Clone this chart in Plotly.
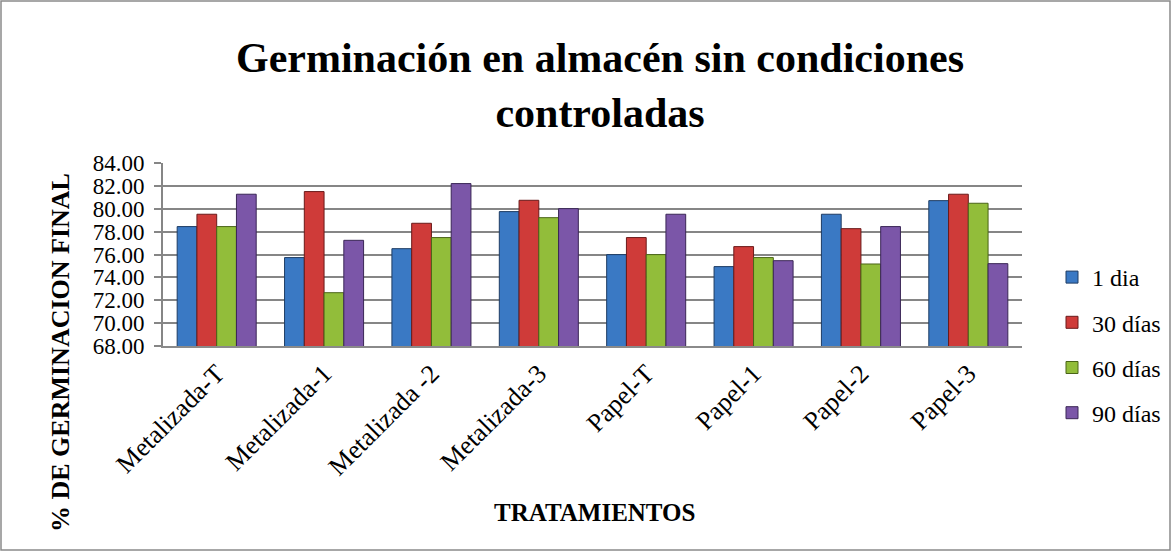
import plotly.graph_objects as go

categories = ["Metalizada-T", "Metalizada-1", "Metalizada -2", "Metalizada-3",
              "Papel-T", "Papel-1", "Papel-2", "Papel-3"]
series_names = ["1 dia", "30 días", "60 días", "90 días"]
dia1 = [78.44, 75.73, 76.51, 79.75, 75.99, 74.94, 79.52, 80.71]
dias30 = [79.52, 81.50, 78.73, 80.74, 77.48, 76.69, 78.26, 81.27]
dias60 = [78.44, 72.66, 77.48, 79.22, 75.99, 75.73, 75.17, 80.48]
dias90 = [81.27, 77.24, 82.20, 80.01, 79.52, 75.46, 78.44, 75.20]
y_ticks = [68, 70, 72, 74, 76, 78, 80, 82, 84]

colors = ["#3A79C4", "#CF3B39", "#92BD3A", "#7B56A8"]
edges = ["#1E3C63", "#6A1A1A", "#4A6418", "#3A2656"]

W, H = 1172, 552
L, R, T, B = 163, 1022, 163, 346


def px(x):
    return (x - L) / (R - L)


def py(y):
    return (B - y) / (B - T)


fig = go.Figure()
for i, (name, vals) in enumerate(zip(series_names, [dia1, dias30, dias60, dias90])):
    fig.add_trace(go.Bar(
        x=categories, y=vals, name=name,
        marker=dict(color=colors[i], line=dict(color=edges[i], width=1)),
        legendgroup=str(i),
    ))

font_family = "Times New Roman, Liberation Serif, serif"

fig.update_layout(
    width=W, height=H,
    margin=dict(l=L, r=W - R, t=T, b=H - B, autoexpand=False),
    paper_bgcolor="white", plot_bgcolor="white",
    barmode="group", bargap=0.264, bargroupgap=0,
    font=dict(family=font_family, color="black"),
    showlegend=True,
    legend=dict(x=px(1052), y=py(255), xanchor="left", yanchor="top",
                font=dict(size=24, family=font_family),
                traceorder="grouped", tracegroupgap=11,
                itemwidth=30, bgcolor="rgba(0,0,0,0)", maxheight=400),
    xaxis=dict(tickangle=-45, tickfont=dict(size=26, family=font_family),
               ticklabelstandoff=0,
               showline=True, linecolor="#8a8a8a", linewidth=2,
               ticks="", showgrid=False),
    yaxis=dict(range=[68, 84], tickvals=y_ticks,
               ticktext=[f"{v:.2f}" for v in y_ticks],
               tickfont=dict(size=23, family=font_family),
               ticklabelstandoff=5,
               showgrid=True, gridcolor="#868686", gridwidth=1.6,
               showline=True, linecolor="#868686", linewidth=1.6,
               ticks="outside", ticklen=7, tickcolor="#868686", tickwidth=1.6,
               zeroline=False),
    annotations=[
        dict(text="<b>Germinación en almacén sin condiciones<br>controladas</b>",
             xref="paper", yref="paper", x=px(600), y=py(85),
             xanchor="center", yanchor="middle", showarrow=False,
             font=dict(size=42, family=font_family)),
        dict(text="<b>% DE GERMINACION FINAL</b>",
             xref="paper", yref="paper", x=px(60), y=py(353),
             xanchor="center", yanchor="middle", showarrow=False, textangle=-90,
             font=dict(size=26, family=font_family)),
        dict(text="<b>TRATAMIENTOS</b>",
             xref="paper", yref="paper", x=px(594), y=py(512),
             xanchor="center", yanchor="middle", showarrow=False,
             font=dict(size=25, family=font_family)),
    ],
    shapes=[
        dict(type="rect", xref="paper", yref="paper",
             x0=px(1), x1=px(1170), y0=py(550), y1=py(1),
             line=dict(color="#8a8a8a", width=1.5), fillcolor="rgba(0,0,0,0)",
             layer="below"),
    ],
)

fig.write_html("out.html", config={"displayModeBar": False},
               post_script="document.body.style.margin='0px';document.body.style.overflow='hidden';")
